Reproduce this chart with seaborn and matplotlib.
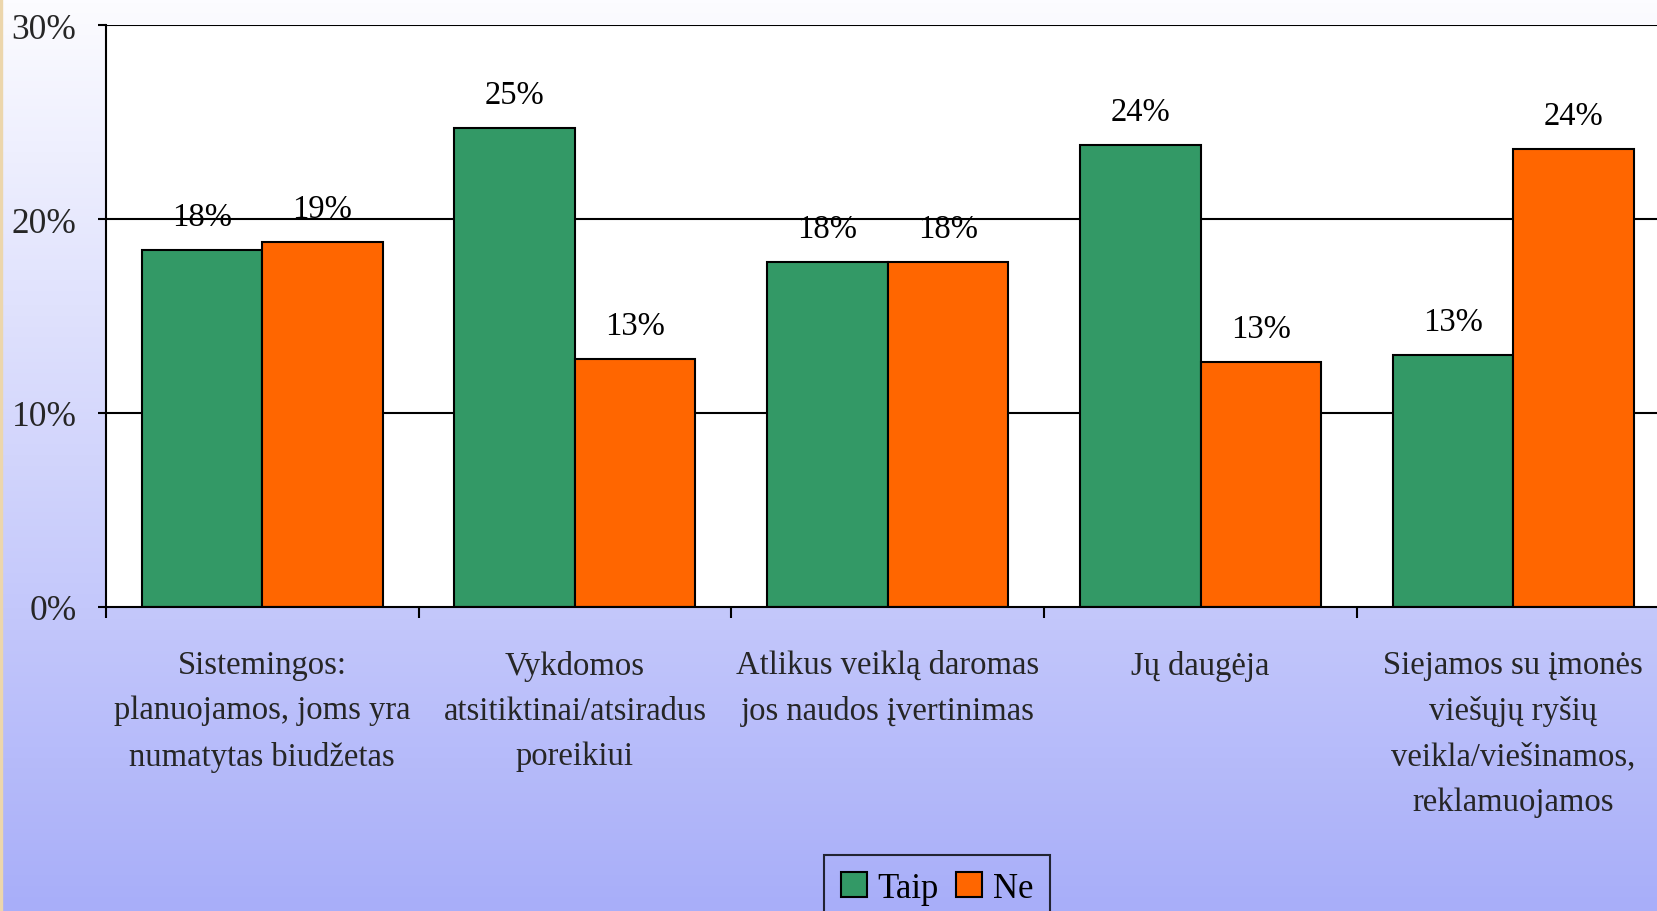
import numpy as np
import pandas as pd
import matplotlib
matplotlib.use("Agg")
import matplotlib.pyplot as plt
import seaborn as sns
from matplotlib.patches import Rectangle

categories = [
    "Sistemingos:\nplanuojamos, joms yra\nnumatytas biudžetas",
    "Vykdomos\natsitiktinai/atsiradus\nporeikiui",
    "Atlikus veiklą daromas\njos naudos įvertinimas",
    "Jų daugėja",
    "Siejamos su įmonės\nviešųjų ryšių\nveikla/viešinamos,\nreklamuojamos",
]
taip = [18.4, 24.7, 17.8, 23.8, 13.0]
ne = [18.8, 12.8, 17.8, 12.6, 23.6]
series_names = ["Taip", "Ne"]
colors = ["#339966", "#FF6600"]
yticks = [0, 10, 20, 30]

df = pd.DataFrame({
    "cat": categories * 2,
    "val": taip + ne,
    "series": [series_names[0]] * len(categories) + [series_names[1]] * len(categories),
})

sns.set_theme(style="white")
plt.rcParams["font.family"] = ["Liberation Serif", "DejaVu Serif"]
plt.rcParams["text.color"] = "black"

fig = plt.figure(figsize=(16.57, 9.12), dpi=100)

# background gradient
bg = fig.add_axes([0, 0, 1, 1], zorder=-10)
top = np.array([252, 252, 255]) / 255
bot = np.array([168, 174, 249]) / 255
t = np.linspace(0, 1, 256)[:, None]
grad = (top[None, :] * (1 - t) + bot[None, :] * t)[:, None, :]
bg.imshow(grad, aspect="auto", extent=[0, 1, 0, 1])
bg.add_patch(Rectangle((0, 0), 0.0015, 1, color="#ecd6ac", transform=bg.transAxes))
bg.set_axis_off()

ax = fig.add_axes([0.0638, 0.3338, 0.9439, 0.6373])
ax.set_facecolor("white")
sns.barplot(data=df, x="cat", y="val", hue="series", palette=colors,
            order=categories, hue_order=series_names, width=0.77, saturation=1,
            edgecolor="black", linewidth=1.5, ax=ax, legend=True, zorder=3)

ax.set_ylim(0, 30)
ax.set_xlim(-0.5, len(categories) - 0.5)
ax.set_yticks(yticks)
ax.set_yticklabels([f"{v}%" for v in yticks], fontsize=25.5)
for v in yticks[1:]:
    ax.axhline(v, color="black", lw=1.5, zorder=1)

ax.set_xlabel("")
ax.set_ylabel("")
ax.tick_params(axis="x", which="major", length=0, pad=31, labelsize=23.5)
ax.set_xticks(np.arange(-0.5, len(categories), 1.0), minor=True)
ax.tick_params(axis="x", which="minor", length=8, width=1.5, color="black", direction="out", bottom=True)
ax.tick_params(axis="y", length=6, width=1.5, color="black", direction="out", left=True, pad=15)
for lab in ax.get_xticklabels():
    lab.set_linespacing(1.63)

for s in ["top", "right"]:
    ax.spines[s].set_visible(False)
for s in ["left", "bottom"]:
    ax.spines[s].set_color("black")
    ax.spines[s].set_linewidth(1.5)
    ax.spines[s].set_zorder(5)

for cont in ax.containers:
    for bar in cont:
        h = bar.get_height()
        ax.annotate(f"{round(h):.0f}%", (bar.get_x() + bar.get_width() / 2, h),
                    xytext=(0, 24), textcoords="offset points",
                    ha="center", va="center", fontsize=23.5, zorder=6)

leg = ax.legend(loc="upper center", bbox_to_anchor=(937 / 1657, 1 - 856 / 912),
                bbox_transform=fig.transFigure, ncol=2, fontsize=25,
                frameon=True, fancybox=False, edgecolor="black", borderaxespad=0,
                handlelength=0.75, handleheight=0.75, handletextpad=0.3,
                columnspacing=0.5, borderpad=0.48)
leg.get_frame().set_facecolor("none")
leg.get_frame().set_linewidth(1.5)
for h in leg.legend_handles:
    h.set_edgecolor("black")
    h.set_linewidth(1.5)

fig.savefig("out.png", dpi=100)
